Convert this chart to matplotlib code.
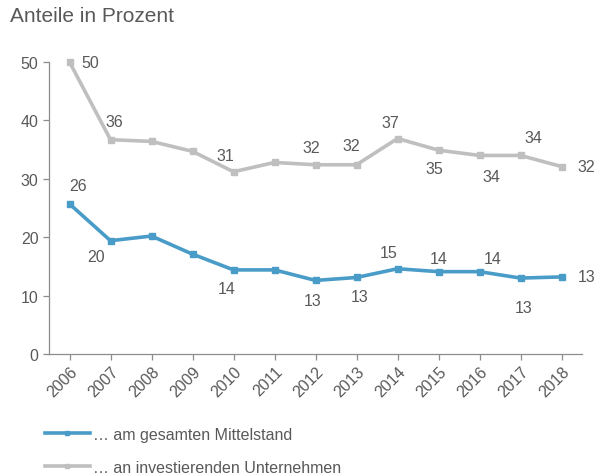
import numpy as np
import matplotlib.pyplot as plt

plt.rcParams['font.family'] = ['Liberation Sans', 'DejaVu Sans']

# Daten
jahre = ['2006', '2007', '2008', '2009', '2010', '2011', '2012',
         '2013', '2014', '2015', '2016', '2017', '2018']
mittelstand = [25.7, 19.4, 20.2, 17.1, 14.4, 14.4, 12.6, 13.1, 14.6, 14.1, 14.1, 13.0, 13.2]
investierend = [50.0, 36.7, 36.4, 34.7, 31.2, 32.8, 32.4, 32.4, 36.9, 34.9, 34.0, 34.0, 32.1]

# Beschriftungen (None = keine Beschriftung)
mittelstand_lbl = ['26', '20', None, None, '14', None, '13', '13', '15', '14', '14', '13', '13']
investierend_lbl = ['50', '36', None, None, '31', None, '32', '32', '37', '35', '34', '34', '32']

# Versatz der Beschriftung in Pixel (dx nach rechts, dy nach oben)
mittelstand_off = [(9, 18), (-14, -16), None, None, (-7, -19), None, (-3, -20),
                   (3, -19), (-9, 16), (0, 13), (13, 13), (3, -29), (16, 0)]
investierend_off = [(12, 0), (4, 18), None, None, (-8, 16), None, (-4, 17),
                    (-5, 19), (-7, 16), (-4, -18), (12, -21), (13, 18), (16, 0)]

blau = '#4A9CC8'
grau = '#BFBFBF'
text_farbe = '#595959'
achse = '#8C8C8C'

fig = plt.figure(figsize=(6.06, 4.77), dpi=100)
ax = fig.add_axes([49 / 606, (477 - 355) / 477, (582 - 49) / 606, (355 - 63) / 477])

x = np.arange(len(jahre))
l1, = ax.plot(x, mittelstand, color=blau, lw=2.6, marker='s', ms=4.5,
              label='… am gesamten Mittelstand', clip_on=False)
l2, = ax.plot(x, investierend, color=grau, lw=2.6, marker='s', ms=4.5,
              label='… an investierenden Unternehmen', clip_on=False)

px = 72 / 100  # Pixel -> Punkt


def beschriften(werte, labels, versatz):
    for i, (v, t, o) in enumerate(zip(werte, labels, versatz)):
        if t is None:
            continue
        dx, dy = o
        ha = 'left' if dx >= 16 or (dx >= 12 and dy == 0) else 'center'
        ax.annotate(t, (i, v), xytext=(dx * px, dy * px), textcoords='offset points',
                    ha=ha, va='center', fontsize=11.5, color=text_farbe)


beschriften(mittelstand, mittelstand_lbl, mittelstand_off)
beschriften(investierend, investierend_lbl, investierend_off)

ax.set_xlim(-0.5, len(jahre) - 0.5)
ax.set_ylim(0, 50)
ax.set_yticks(range(0, 51, 10))
ax.set_xticks(x)
ax.set_xticklabels(jahre, rotation=45, ha='right', rotation_mode='anchor')

for s in ['top', 'right']:
    ax.spines[s].set_visible(False)
for s in ['left', 'bottom']:
    ax.spines[s].set_color(achse)
    ax.spines[s].set_linewidth(0.9)
ax.tick_params(colors=achse, labelcolor=text_farbe, labelsize=11.5, length=4, width=0.9)
ax.tick_params(axis='x', pad=3)

fig.text(10 / 606, 1 - 16 / 477, 'Anteile in Prozent', fontsize=15,
         color=text_farbe, va='center', ha='left')

fig.legend(handles=[l1, l2], loc='upper left', bbox_to_anchor=(45 / 606, 1 - 428 / 477),
           frameon=False, fontsize=11.5, labelcolor=text_farbe, handlelength=2.8,
           handletextpad=0.2, labelspacing=1.12, borderaxespad=0, borderpad=0,
           markerscale=0.7)

fig.savefig('out.png', dpi=100)
